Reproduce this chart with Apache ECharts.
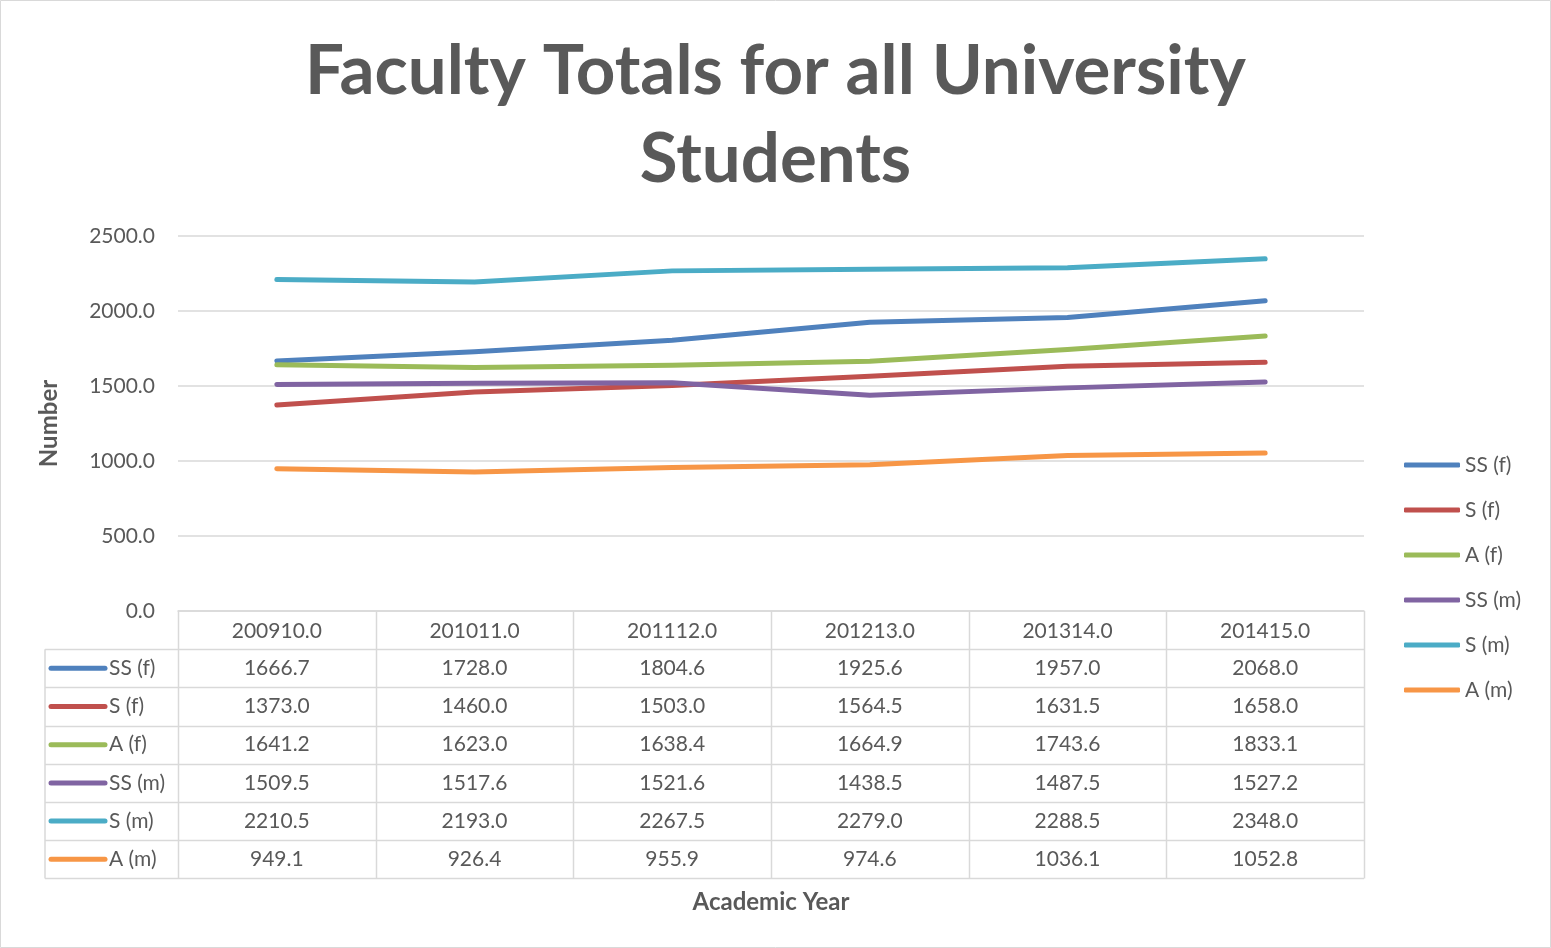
<!DOCTYPE html>
<html><head><meta charset="utf-8">
<script src="https://cdn.jsdelivr.net/npm/echarts@6/dist/echarts.min.js"></script>
<style>html,body{margin:0;padding:0;background:#fff}#c{width:1551px;height:948px}</style>
</head><body><div id="c"></div>
<script>
const categories = ['200910.0','201011.0','201112.0','201213.0','201314.0','201415.0'];
const seriesNames = ['SS (f)','S (f)','A (f)','SS (m)','S (m)','A (m)'];
const ssF = [1666.7,1728.0,1804.6,1925.6,1957.0,2068.0];
const sF  = [1373.0,1460.0,1503.0,1564.5,1631.5,1658.0];
const aF  = [1641.2,1623.0,1638.4,1664.9,1743.6,1833.1];
const ssM = [1509.5,1517.6,1521.6,1438.5,1487.5,1527.2];
const sM  = [2210.5,2193.0,2267.5,2279.0,2288.5,2348.0];
const aM  = [949.1,926.4,955.9,974.6,1036.1,1052.8];
const yTicks = [0,500,1000,1500,2000,2500];
const seriesData = [ssF,sF,aF,ssM,sM,aM];
const colors = ['#4F81BD','#C0504D','#9BBB59','#8064A2','#4BACC6','#F79646'];

const FONT = 'Lato, "Open Sans", sans-serif';
const TXT = '#595959';
const GRID = '#d9d9d9';
const FS = 21;
const gLeft = 178, gRight = 1364, gTop = 236, gBottom = 611;
const rowH = 38.2, tableLeft = 45;

const chart = echarts.init(document.getElementById('c'));

const graphics = [];
graphics.push({type:'rect', shape:{x:0.5,y:0.5,width:1550,height:947}, style:{fill:null, stroke:GRID, lineWidth:1}, silent:true});
const colW = (gRight - gLeft) / categories.length;
const nRows = seriesNames.length;
const tableBottom = gBottom + rowH * (nRows + 1);
for (let i = 0; i <= categories.length; i++) {
  const x = Math.round(gLeft + i * colW) + 0.5;
  graphics.push({type:'line', shape:{x1:x,y1:gBottom,x2:x,y2:tableBottom}, style:{stroke:GRID,lineWidth:1.5}, silent:true});
}
graphics.push({type:'line', shape:{x1:tableLeft,y1:gBottom+rowH,x2:tableLeft,y2:tableBottom}, style:{stroke:GRID,lineWidth:1.5}, silent:true});
for (let r = 1; r <= nRows + 1; r++) {
  const y = Math.round(gBottom + r * rowH) + 0.5;
  graphics.push({type:'line', shape:{x1:tableLeft,y1:y,x2:gRight,y2:y}, style:{stroke:GRID,lineWidth:1.5}, silent:true});
}
seriesNames.forEach((name, r) => {
  const cy = gBottom + (r + 1.5) * rowH;
  graphics.push({type:'line', shape:{x1:51,y1:cy,x2:105,y2:cy}, style:{stroke:colors[r],lineWidth:5,lineCap:'round'}, silent:true});
  graphics.push({type:'text', x:109, y:cy, style:{text:name, fill:TXT, font:FS+'px '+FONT, textAlign:'left', textVerticalAlign:'middle'}, silent:true});
  seriesData[r].forEach((v, c) => {
    graphics.push({type:'text', x:gLeft + (c + 0.5) * colW, y:cy, style:{text:v.toFixed(1), fill:TXT, font:FS+'px '+FONT, textAlign:'center', textVerticalAlign:'middle'}, silent:true});
  });
});

chart.setOption({
  animation:false,
  backgroundColor:'#fff',
  color: colors,
  title:{
    text:'Faculty Totals for all University\nStudents',
    left:'center', top:23,
    textStyle:{fontFamily:FONT, fontWeight:'bold', fontSize:69, color:TXT, lineHeight:88}
  },
  legend:{
    orient:'vertical', left:1399, top:449,
    itemWidth:56, itemHeight:5, itemGap:23, icon:'roundRect',
    textStyle:{fontFamily:FONT, fontSize:FS, color:TXT, lineHeight:22},
    data: seriesNames
  },
  grid:{left:gLeft, right:1551-gRight, top:gTop, bottom:948-gBottom, containLabel:false},
  xAxis:{
    type:'category', data:categories, boundaryGap:true,
    name:'Academic Year', nameLocation:'middle', nameGap:279,
    nameTextStyle:{fontFamily:FONT, fontWeight:'bold', fontSize:24, color:TXT},
    axisLine:{show:true, lineStyle:{color:GRID, width:1.5}},
    axisTick:{show:false},
    axisLabel:{margin:10, fontFamily:FONT, fontSize:FS, color:TXT, interval:0}
  },
  yAxis:{
    type:'value', min:yTicks[0], max:yTicks[yTicks.length-1], interval:500,
    name:'Number', nameLocation:'middle', nameGap:117, nameRotate:90,
    nameTextStyle:{fontFamily:FONT, fontWeight:'bold', fontSize:24, color:TXT},
    axisLine:{show:false}, axisTick:{show:false},
    axisLabel:{margin:23, fontFamily:FONT, fontSize:FS, color:TXT, formatter:v=>v.toFixed(1)},
    splitLine:{lineStyle:{color:GRID, width:1.5}}
  },
  series: seriesNames.map((n,i)=>({
    name:n, type:'line', data:seriesData[i], symbol:'none',
    lineStyle:{width:5, cap:'round', join:'round', color:colors[i]},
    itemStyle:{color:colors[i]}
  })),
  graphic: graphics
});
</script></body></html>
